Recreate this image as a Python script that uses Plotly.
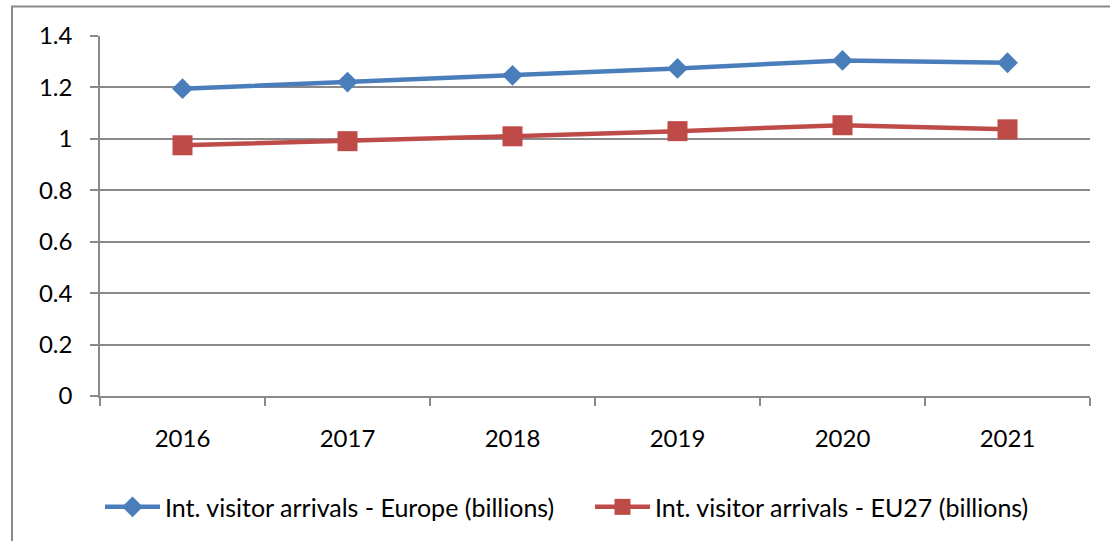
import plotly.graph_objects as go

# Data: international visitor arrivals (billions)
years = ["2016", "2017", "2018", "2019", "2020", "2021"]
europe = [1.195, 1.221, 1.247, 1.274, 1.305, 1.296]
eu27 = [0.975, 0.991, 1.010, 1.030, 1.053, 1.037]

y_ticks = [0, 0.2, 0.4, 0.6, 0.8, 1.0, 1.2, 1.4]
y_tick_text = ["0", "0.2", "0.4", "0.6", "0.8", "1", "1.2", "1.4"]

FONT = "Lato"
GRID = "#8a8a8a"

fig = go.Figure()
fig.add_trace(go.Scatter(
    x=years, y=europe, mode="lines+markers",
    name="Int. visitor arrivals - Europe (billions)",
    line=dict(color="#4a7ebb", width=4.5),
    marker=dict(symbol="diamond", size=16, color="#4a7ebb"),
))
fig.add_trace(go.Scatter(
    x=years, y=eu27, mode="lines+markers",
    name="Int. visitor arrivals - EU27 (billions)",
    line=dict(color="#be4b48", width=4.5),
    marker=dict(symbol="square", size=20, color="#be4b48"),
))

fig.update_layout(
    width=1110, height=541,
    margin=dict(l=100, r=20, t=36, b=144),
    paper_bgcolor="white", plot_bgcolor="white",
    font=dict(family=FONT, size=24, color="#000000"),
    showlegend=True,
    legend=dict(
        orientation="h", x=0.0, xanchor="left", y=-0.305, yanchor="middle",
        font=dict(family=FONT, size=25, color="#000000"),
        itemwidth=55, tracegroupgap=0, entrywidth=420,
    ),
    xaxis=dict(
        type="category", range=[-0.5, 5.5],
        showgrid=False, showline=True, linecolor=GRID, linewidth=1.5,
        ticks="outside", tickson="boundaries", ticklen=8, tickcolor=GRID, tickwidth=1.5,
        ticklabelstandoff=20,
    ),
    yaxis=dict(
        range=[0, 1.4], tickvals=y_ticks, ticktext=y_tick_text,
        showgrid=True, gridcolor=GRID, gridwidth=1.5,
        showline=True, linecolor=GRID, linewidth=1.5, zeroline=False,
        ticks="outside", ticklen=8, tickcolor=GRID, tickwidth=1.5,
        ticklabelstandoff=13,
    ),
    shapes=[dict(
        type="rect", xref="paper", yref="paper",
        x0=-0.0889, x1=1.05, y0=-0.6, y1=1.0818,
        line=dict(color="#898989", width=2), fillcolor="rgba(0,0,0,0)",
        layer="below",
    )],
)

fig.write_html("out.html")
